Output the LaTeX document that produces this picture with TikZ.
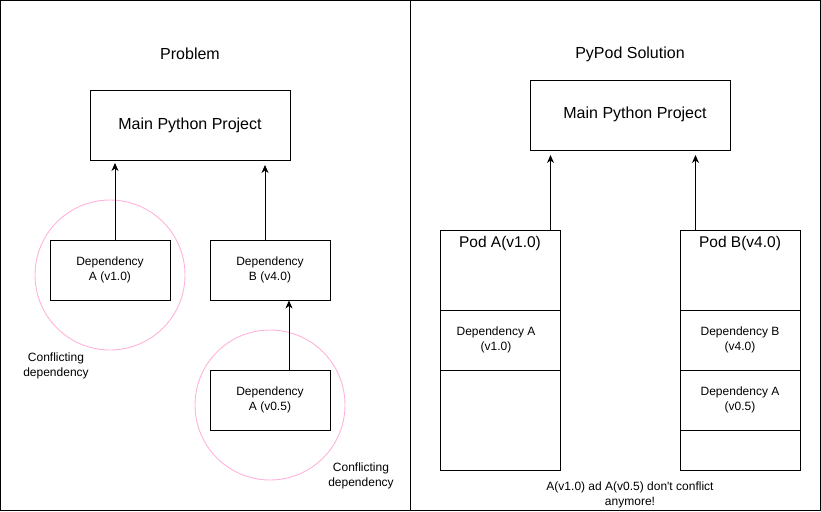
\documentclass[tikz,border=0pt]{standalone}
\usepackage{fontspec}
\setmainfont{Liberation Sans}
\usetikzlibrary{arrows.meta}
\definecolor{pinkc}{HTML}{FFB3DA}
\begin{document}
\begin{tikzpicture}[x=1pt,y=-1pt,
  frame/.style={draw,line width=1pt},
  box/.style={draw,line width=0.9pt,inner sep=0pt,align=center},
  arr/.style={-{Stealth[length=8pt,width=7pt,inset=2.5pt]},line width=0.9pt},
  ring/.style={draw=pinkc,line width=0.9pt},
  big/.style={font=\fontsize{16}{19}\selectfont},
  small/.style={font=\fontsize{12}{15}\selectfont,align=center},
  podlbl/.style={font=\fontsize{15.5}{18}\selectfont}]
\useasboundingbox (0,0) rectangle (821,511);
% frames
\draw[frame] (0.5,0.5) rectangle (410,510);
\draw[frame] (410,0.5) rectangle (820.5,510);
% ---- Problem side
\node[big] (t1) at (190,54) {Problem};
\node[box,big,minimum width=200pt,minimum height=70pt] (main1) at (190,125) {Main Python Project};
\node[ring,circle,minimum size=150pt] (c1) at (110,275) {};
\node[ring,circle,minimum size=150pt] (c2) at (270,405) {};
\node[box,small,minimum width=120pt,minimum height=60pt,fill=white] (da1) at (110,270) {Dependency\\A (v1.0)};
\node[box,small,minimum width=120pt,minimum height=60pt] (db4) at (270,270) {Dependency\\B (v4.0)};
\node[box,small,minimum width=120pt,minimum height=60pt] (da05) at (270,400) {Dependency\\A (v0.5)};
\node[small] (cf1) at (56,366) {Conflicting\\dependency};
\node[small] (cf2) at (361,476) {Conflicting\\dependency};
\coordinate (e1) at (115,163);
\coordinate (e2) at (265,165);
\draw[arr] (da1.north -| e1) -- (e1);
\draw[arr] (db4.north -| e2) -- (e2);
\draw[arr] (da05.north -| 289,0) -- (db4.south -| 289,0);
% ---- PyPod side
\node[big] (t2) at (630,54) {PyPod Solution};
\node[box,minimum width=200pt,minimum height=70pt] (main2) at (630,115) {};
\node[big] (main2t) at (635,114) {Main Python Project};
\node[box,minimum width=120pt,minimum height=240pt] (podA) at (500,350) {};
\node[box,minimum width=120pt,minimum height=240pt] (podB) at (740,350) {};
\node[podlbl] (pa) at (500,243) {Pod A(v1.0)};
\node[podlbl] (pb) at (740,243) {Pod B(v4.0)};
\draw[line width=0.9pt] (podA.west |- 0,310) -- (podA.east |- 0,310);
\draw[line width=0.9pt] (podA.west |- 0,370) -- (podA.east |- 0,370);
\draw[line width=0.9pt] (podB.west |- 0,310) -- (podB.east |- 0,310);
\draw[line width=0.9pt] (podB.west |- 0,370) -- (podB.east |- 0,370);
\draw[line width=0.9pt] (podB.west |- 0,430) -- (podB.east |- 0,430);
\node[small] (pda) at (496,340) {Dependency A\\(v1.0)};
\node[small] (pdb) at (740,340) {Dependency B\\(v4.0)};
\node[small] (pda5) at (740,400) {Dependency A\\(v0.5)};
\node[small] (note) at (630,495) {A(v1.0) ad A(v0.5) don\textquotesingle t conflict\\anymore!};
\coordinate (e3) at (550.5,155);
\coordinate (e4) at (695.5,155);
\draw[arr] (podA.north -| e3) -- (e3);
\draw[arr] (podB.north -| e4) -- (e4);
\end{tikzpicture}
\end{document}
